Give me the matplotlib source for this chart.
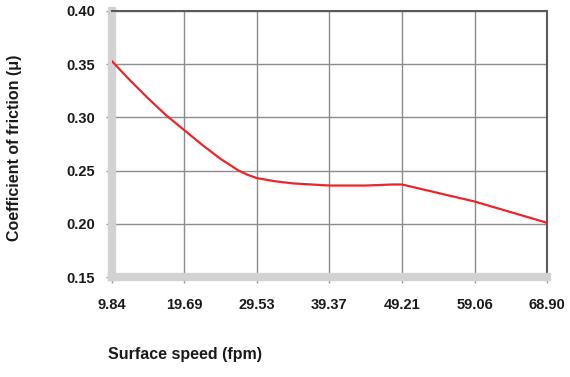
import matplotlib
matplotlib.use("Agg")
import matplotlib.pyplot as plt

# surface speed (fpm) vs coefficient of friction
speed = [9.84, 12.30, 14.76, 17.22, 19.69, 22.15, 24.61, 27.07, 28.30, 29.53, 32.00,
         34.45, 39.37, 44.29, 47.98, 49.21, 50.44, 54.13, 59.06, 63.98, 68.90]
mu = [0.353, 0.335, 0.318, 0.302, 0.288, 0.274, 0.261, 0.250, 0.246, 0.243, 0.240,
      0.238, 0.236, 0.236, 0.237, 0.237, 0.235, 0.229, 0.221, 0.211, 0.201]

xticks = [9.84, 19.69, 29.53, 39.37, 49.21, 59.06, 68.90]
xticklabels = ["9.84", "19.69", "29.53", "39.37", "49.21", "59.06", "68.90"]
yticks = [0.15, 0.20, 0.25, 0.30, 0.35, 0.40]

plt.rcParams['font.family'] = ['Liberation Sans', 'DejaVu Sans']

fig = plt.figure(figsize=(5.7, 3.77), dpi=100)
ax = fig.add_axes([0.196, 0.265, 0.764, 0.706])

ax.plot(speed, mu, color='#e8262b', lw=1.6, zorder=3, solid_joinstyle='round')

ax.set_xlim(9.84, 68.90)
ax.set_ylim(0.15, 0.40)
ax.set_xticks(xticks)
ax.set_xticklabels(xticklabels)
ax.set_yticks(yticks)
ax.set_yticklabels([f"{v:.2f}" for v in yticks])

ax.grid(True, color='#8c8c8c', lw=1.0)
ax.set_axisbelow(True)

for side in ['left', 'bottom']:
    ax.spines[side].set_color('#d2d2d2')
    ax.spines[side].set_linewidth(6)
for side in ['top', 'right']:
    ax.spines[side].set_color('#5a5a5a')
    ax.spines[side].set_linewidth(1.5)

ax.tick_params(axis='both', length=4, width=1, color='#999999',
               labelsize=10.5, labelcolor='#1a1a1a')
ax.tick_params(axis='x', pad=11)
ax.tick_params(axis='y', pad=8)
for lab in ax.get_xticklabels() + ax.get_yticklabels():
    lab.set_fontweight('bold')

fig.text(15 / 570, 1 - 148 / 377, 'Coefficient of friction (\u03bc)', rotation=90,
         ha='center', va='center', fontsize=11.5, fontweight='bold', color='#1a1a1a')
fig.text(108 / 570, 1 - 355 / 377, 'Surface speed (fpm)', ha='left', va='center',
         fontsize=11.5, fontweight='bold', color='#1a1a1a')

fig.savefig('out.png', dpi=100, facecolor='white')
